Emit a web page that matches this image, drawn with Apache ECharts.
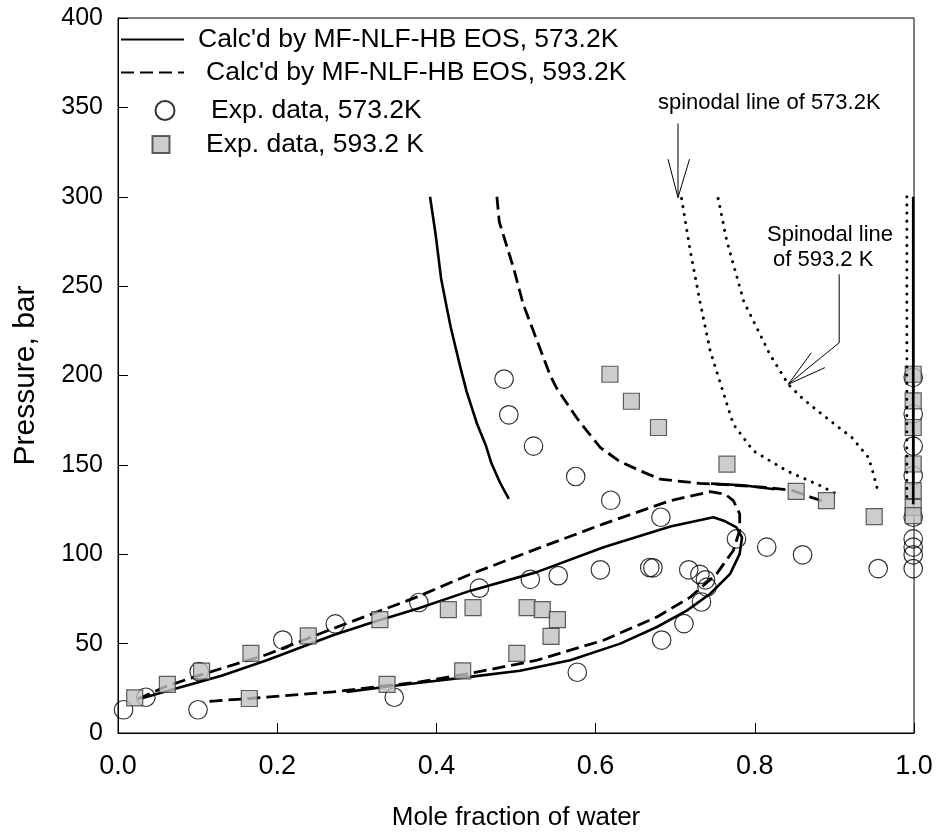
<!DOCTYPE html>
<html>
<head>
<meta charset="utf-8">
<script src="https://cdn.jsdelivr.net/npm/echarts@6/dist/echarts.min.js"></script>
<style>
  html, body { margin: 0; padding: 0; background: #fff; }
  #main { width: 938px; height: 833px; }
</style>
</head>
<body>
<div id="main"></div>
<script>
var FONT = '"Liberation Sans", Arial, sans-serif';

// calculated curves, 573.2K (solid)
var calc573Branch = [[0.392,300],[0.399,279],[0.406,254],[0.413,238],[0.418,227],[0.425,214],[0.431,203],[0.438,191],[0.451,173],[0.462,161],[0.469,151],[0.480,140],[0.486,135],[0.491,131]];
var calc573Loop = [[0.030,19.5],[0.074,25],[0.130,32],[0.187,40.7],[0.270,54.7],[0.320,62],[0.377,69.6],[0.442,79.5],[0.526,90],[0.610,103.9],[0.694,115.5],[0.748,120.7],[0.761,118.8],[0.777,115],[0.784,109.5],[0.781,100.2],[0.769,89],[0.744,77.9],[0.715,68.6],[0.677,59.3],[0.631,50],[0.568,40.7],[0.505,34.8],[0.442,31.4],[0.379,28.1],[0.340,26],[0.287,23]];
var calc573Flat = [[0.745,139.5],[0.785,138.6],[0.825,136.4]];
var calc573Water = [[0.999,300],[0.999,128]];

// calculated curves, 593.2K (dashed)
var calc593Branch = [[0.476,300],[0.479,286],[0.488,273],[0.497,260],[0.509,240],[0.526,220],[0.543,200],[0.551,193],[0.576,176.5],[0.589,169],[0.606,159.7],[0.630,152],[0.656,146.7],[0.681,142],[0.702,141],[0.731,139.6],[0.748,139.3],[0.815,137.4],[0.848,135.6],[0.870,132],[0.890,129]];
var calc593Loop = [[0.025,19],[0.060,26],[0.103,32.4],[0.187,43.9],[0.270,58.4],[0.375,76],[0.442,88.7],[0.526,103],[0.610,117],[0.694,130],[0.744,135],[0.763,133.5],[0.773,130],[0.781,122.6],[0.781,113.3],[0.773,102.1],[0.752,89],[0.719,76],[0.677,64.9],[0.610,51.9],[0.526,40.7],[0.442,33.3],[0.379,28.6],[0.270,23],[0.165,19.3],[0.107,17.5]];

// spinodal lines (dotted)
var spinodal573 = [[0.708,299],[0.719,269.5],[0.731,241.6],[0.744,213.7],[0.769,178.3],[0.773,172.8],[0.798,157.9],[0.840,146.7],[0.882,138.4],[0.907,132.8]];
var spinodal593 = [[0.754,299],[0.765,275],[0.786,241.6],[0.819,211.8],[0.842,195.1],[0.861,186.7],[0.882,179.2],[0.903,171.8],[0.922,165.3],[0.943,154],[0.949,144.9],[0.955,134.6]];
var spinodalWater = [[0.991,300],[0.991,130]];

// experimental data
var exp573 = [[0.007,13],[0.035,20],[0.1005,13],[0.102,34.4],[0.207,52],[0.273,61],[0.347,20],[0.378,73],[0.454,81],[0.485,198],[0.491,178],[0.518,86],[0.522,160.5],[0.553,88],[0.575,143.5],[0.577,34],[0.606,91.3],[0.619,130.2],[0.668,92.6],[0.672,92.4],[0.682,120.7],[0.683,52],[0.711,61.2],[0.717,91.3],[0.731,88.7],[0.738,85.7],[0.740,81.6],[0.733,73.3],[0.777,108.6],[0.815,104],[0.860,99.7],[0.955,92],[0.999,199],[0.999,178.5],[0.999,160.5],[0.999,144],[0.999,120.7],[0.999,108.6],[0.999,104],[0.999,99.7],[0.999,92]];
var exp593 = [[0.021,19.7],[0.062,27.2],[0.105,34.6],[0.165,19.3],[0.167,44.5],[0.239,54.3],[0.329,63.4],[0.338,27.2],[0.415,69],[0.433,34.8],[0.446,70.1],[0.501,44.5],[0.514,70.1],[0.533,69],[0.544,54.1],[0.552,63.4],[0.618,200.7],[0.645,185.6],[0.679,170.9],[0.765,150.4],[0.852,135.2],[0.890,130],[0.950,121.1],[0.999,200.7],[0.999,185.8],[0.999,170.9],[0.999,150.5],[0.999,135.6],[0.999,126.2],[0.999,121.6]];

// annotation arrows
var arrow573Shaft = [[0.7035,341],[0.7035,299.5]];
var arrow573Head = [[0.691,321],[0.7035,299.5],[0.718,321]];
var arrow593Shaft = [[0.906,256.6],[0.906,218.3],[0.842,195.1]];
var arrow593Head = [[0.871,212.7],[0.842,195.1],[0.888,204.4]];

var N_CALC573 = "Calc'd by MF-NLF-HB EOS, 573.2K";
var N_CALC593 = "Calc'd by MF-NLF-HB EOS, 593.2K";
var N_EXP573 = 'Exp. data, 573.2K';
var N_EXP593 = 'Exp. data, 593.2 K';

var chart = echarts.init(document.getElementById('main'));

var solid = { color: '#000', width: 2.6 };
var dashed = { color: '#000', width: 2.8, type: [13, 6] };
var dotted = { color: '#000', width: 3, type: [0.1, 8], cap: 'round' };
var thin = { color: '#000', width: 1 };

function line(name, data, style, z) {
    return {
        name: name, type: 'line', data: data, symbol: 'none',
        itemStyle: { color: '#000' },
        lineStyle: style, silent: true, z: z || 2, animation: false
    };
}

function legendItem(name, left, top, w, h, pad, hideSymbol) {
    var lg = {
        data: [name], left: left, top: top, padding: 0,
        itemWidth: w, itemHeight: h, selectedMode: false,
        textStyle: { fontSize: 26.5, fontFamily: FONT, color: '#000', lineHeight: 26, padding: [0, 0, 0, pad] }
    };
    if (hideSymbol) lg.itemStyle = { opacity: 0 };
    return lg;
}

var option = {
    animation: false,
    grid: { left: 118, right: 24, top: 18, bottom: 100, outerBoundsMode: 'none',
        show: true, borderColor: '#000', borderWidth: 1 },
    legend: [
        legendItem(N_CALC573, 120, 26, 63, 14, 9, true),
        legendItem(N_CALC593, 120, 59, 63, 14, 17, true),
        legendItem(N_EXP573, 154.5, 97, 19, 19, 31.5),
        legendItem(N_EXP593, 151.5, 131, 17, 17, 31.5)
    ],
    xAxis: {
        type: 'value', min: 0, max: 1, interval: 0.2,
        name: 'Mole fraction of water', nameLocation: 'middle', nameGap: 72,
        nameTextStyle: { fontSize: 26, fontFamily: FONT, color: '#000' },
        axisLine: { lineStyle: { color: '#000', width: 1 } },
        axisTick: { inside: true, length: 10, lineStyle: { color: '#000' } },
        axisLabel: { fontSize: 27, fontFamily: FONT, color: '#000', margin: 20,
            formatter: function (v) { return v.toFixed(1); } },
        splitLine: { show: false }
    },
    yAxis: {
        type: 'value', min: 0, max: 400, interval: 50,
        name: 'Pressure, bar', nameLocation: 'middle', nameGap: 77, nameRotate: 90,
        nameTextStyle: { fontSize: 30, fontFamily: FONT, color: '#000' },
        axisLine: { lineStyle: { color: '#000', width: 1 } },
        axisTick: { inside: true, length: 10, lineStyle: { color: '#000' } },
        axisLabel: { fontSize: 25, fontFamily: FONT, color: '#000', margin: 15 },
        splitLine: { show: false }
    },
    graphic: [
        { type: 'text', left: 658, top: 92, silent: true,
          style: { text: 'spinodal line of 573.2K', font: '22px ' + FONT, fill: '#000' } },
        { type: 'text', left: 767, top: 224, silent: true,
          style: { text: 'Spinodal line', font: '22px ' + FONT, fill: '#000' } },
        { type: 'text', left: 773, top: 249, silent: true,
          style: { text: 'of 593.2 K', font: '22px ' + FONT, fill: '#000' } }
    ],
    series: [
        line(N_CALC573, calc573Loop, solid),
        line(N_CALC573, calc573Branch, solid),
        line(N_CALC573, calc573Flat, solid),
        line(N_CALC593, calc593Loop, dashed),
        line(N_CALC593, calc593Branch, dashed),
        line('spinodal 573.2K', spinodal573, dotted),
        line('spinodal 593.2K', spinodal593, dotted),
        {
            name: N_EXP573, type: 'scatter', data: exp573, symbol: 'circle', symbolSize: 18.5,
            itemStyle: { color: 'rgba(255,255,255,0)', borderColor: '#000', borderWidth: 1.2 },
            z: 3
        },
        {
            name: N_EXP593, type: 'scatter', data: exp593, symbol: 'rect', symbolSize: 16,
            itemStyle: { color: '#c0c0c0', borderColor: '#3a3a3a', borderWidth: 1.2 },
            z: 3
        },
        line('spinodal water', spinodalWater, dotted, 4),
        line(N_CALC573, calc573Water, solid, 4),
        line('arrow 1', arrow573Shaft, thin, 4),
        line('arrow 1 head', arrow573Head, thin, 4),
        line('arrow 2', arrow593Shaft, thin, 4),
        line('arrow 2 head', arrow593Head, thin, 4)
    ]
};

chart.setOption(option);
</script>
</body>
</html>
